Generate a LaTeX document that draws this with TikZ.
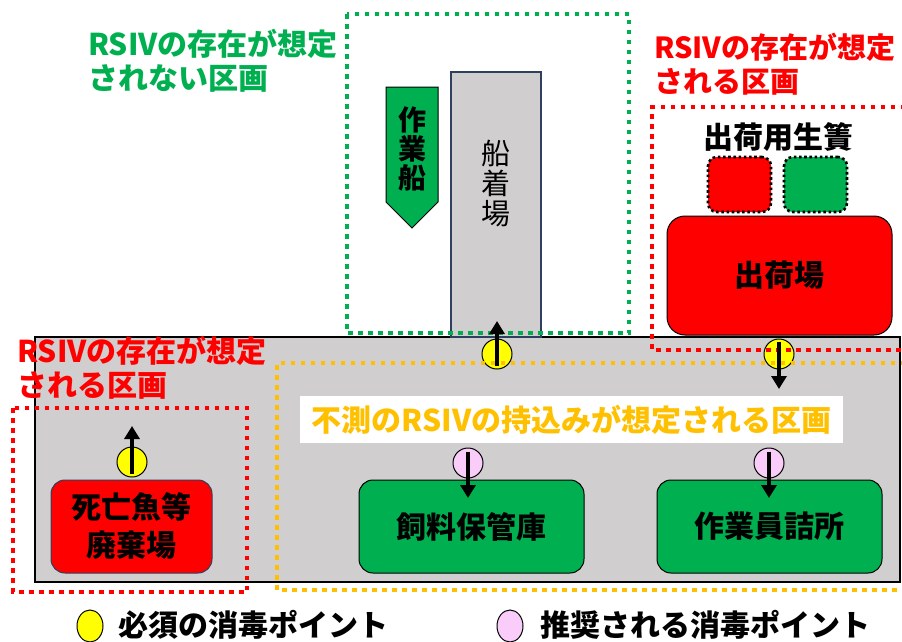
\documentclass[tikz,border=0pt]{standalone}
\usepackage{fontspec}
\setmainfont{Noto Sans CJK JP}
\usetikzlibrary{arrows.meta,shapes.geometric}
\definecolor{bgray}{HTML}{D0CECE}
\definecolor{zgreen}{HTML}{00B050}
\definecolor{zred}{HTML}{FF0000}
\definecolor{zorange}{HTML}{FFC000}
\definecolor{zyellow}{HTML}{FFFF00}
\definecolor{zpink}{HTML}{F9CCF9}
\definecolor{navy}{HTML}{2F3F5F}
\begin{document}
\begin{tikzpicture}[x=1pt,y=-1pt,
  jp/.style={font=\fontsize{30}{34}\selectfont\bfseries, inner sep=0pt, align=left},
  zone/.style={line width=4pt, dash pattern=on 4.5pt off 5.5pt},
  box/.style={draw=black, line width=1pt, rounded corners=14pt, font=\fontsize{30}{38}\selectfont\bfseries, align=center},
  arr/.style={line width=4pt, -{Triangle[width=15pt,length=13pt]}},
  point/.style={circle, draw=black, line width=1pt, minimum size=30pt, inner sep=0pt},
  legpt/.style={ellipse, draw=black, line width=1pt, minimum width=26pt, minimum height=32pt, inner sep=0pt}
]
\useasboundingbox (0,0) rectangle (902,641);

% main gray area
\draw[fill=bgray, draw=black, line width=1.4pt] (35,337) rectangle (900,582);

% berth
\node[draw=navy, fill=bgray, line width=1.2pt, minimum width=90pt, minimum height=265pt, inner sep=0pt] (berth) at (496,204.5) {};
\node[font=\fontsize{29}{30}\selectfont, align=center, inner sep=0pt] (berthtxt) at (496,184) {船\\着\\場};

% work boat
\draw[fill=zgreen, draw=black, line width=1pt] (386,87) -- (438,87) -- (438,202) -- (412,228) -- (386,202) -- cycle;
\node[font=\fontsize{28}{29}\selectfont\bfseries, align=center, inner sep=0pt] (boat) at (412,149) {作\\業\\船};

% shipping area
\node[jp] (cagelbl) at (778,137) {出荷用生簀};
\node[draw=black, line width=2.6pt, dash pattern=on 2.6pt off 2.6pt, rounded corners=9pt, fill=zred, minimum width=63pt, minimum height=55pt] (cager) at (739.5,184.5) {};
\node[draw=black, line width=2.6pt, dash pattern=on 2.6pt off 2.6pt, rounded corners=9pt, fill=zgreen, minimum width=63pt, minimum height=55pt] (cageg) at (815.5,184.5) {};
\node[box, fill=zred, rounded corners=18pt, minimum width=225pt, minimum height=119pt] (ship) at (779.5,275.5) {出荷場};

% lower boxes
\node[box, fill=zred, draw=navy, minimum width=161pt, minimum height=93pt] (dead) at (131.5,526.5) {死亡魚等\\廃棄場};
\node[box, fill=zgreen, minimum width=225pt, minimum height=93pt] (feed) at (471.5,526.5) {飼料保管庫};
\node[box, fill=zgreen, minimum width=225pt, minimum height=93pt] (staff) at (769.5,526.5) {作業員詰所};

% disinfection points
\node[point, fill=zyellow] (y1) at (497,354) {};
\node[point, fill=zyellow] (y2) at (779,354) {};
\node[point, fill=zyellow] (y3) at (132,462) {};
\node[point, fill=zpink] (p1) at (468,463) {};
\node[point, fill=zpink] (p2) at (769,463) {};

% zones
\draw[zone, draw=zgreen] (347,14) rectangle (629,333);
\draw[zone, draw=zred] (905,107) -- (652,107) -- (652,350) -- (905,350);
\draw[zone, draw=zred] (13,408) rectangle (247,592);
\draw[zone, draw=zorange] (905,363) -- (277,363) -- (277,590) -- (905,590);

% zone labels
\node[jp, text=zgreen, anchor=north west] (lg) at (88,29) {RSIVの存在が想定\\されない区画};
\node[jp, text=zred, anchor=north west, font=\fontsize{29}{34}\selectfont\bfseries] (lr1) at (654,33) {RSIVの存在が想定\\される区画};
\node[jp, text=zred, anchor=north west] (lr2) at (17,336) {RSIVの存在が想定\\される区画};
\node[jp, text=zorange, fill=white, minimum width=543pt, minimum height=47pt, align=center] (lo) at (571.5,419.5) {不測のRSIVの持込みが想定される区画};

% arrows
\coordinate (t1) at (497,321);
\coordinate (t2) at (779,389);
\coordinate (t3) at (132,426);
\coordinate (t4) at (468,498);
\coordinate (t5) at (769,498);
\draw[arr] ([yshift=4pt]y1.south) -- (t1);
\draw[arr] ([yshift=-3pt]y2.north) -- (t2);
\draw[arr] ([yshift=4pt]y3.south) -- (t3);
\draw[arr] ([yshift=-4pt]p1.north) -- (t4);
\draw[arr] ([yshift=-4pt]p2.north) -- (t5);

% legend
\node[legpt, fill=zyellow] (ly) at (90,626) {};
\node[jp, anchor=west] (lyt) at (118,625) {必須の消毒ポイント};
\node[legpt, fill=zpink] (lp) at (510,626) {};
\node[jp, anchor=west] (lpt) at (540,625) {推奨される消毒ポイント};
\end{tikzpicture}
\end{document}
